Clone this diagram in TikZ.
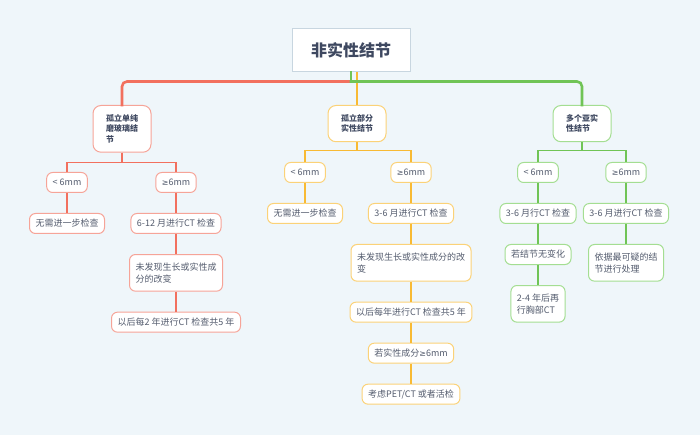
\documentclass[tikz,border=0pt]{standalone}
\usepackage{fontspec}
\setmainfont{Noto Sans CJK SC}
\newfontfamily\symfont{DejaVu Sans}
\usepackage{tikz}
\usetikzlibrary{positioning}
\definecolor{paper}{RGB}{239,246,250}
\definecolor{ink}{RGB}{84,92,110}
\definecolor{darkink}{RGB}{62,72,96}
\definecolor{rootline}{RGB}{200,214,224}
\definecolor{coral}{RGB}{242,112,94}
\definecolor{coraledge}{RGB}{246,164,152}
\definecolor{amber}{RGB}{248,186,52}
\definecolor{amberedge}{RGB}{251,210,120}
\definecolor{leaf}{RGB}{112,196,86}
\definecolor{leafedge}{RGB}{164,222,146}
\newcommand{\leaffont}{\fontsize{9}{12.3}\selectfont}
\newcommand{\branchfont}{\fontsize{8}{10.5}\selectfont\bfseries}
\newcommand{\gesym}{{\symfont\fontsize{8}{10}\selectfont ≥}}
\tikzset{
  topic/.style={draw=rootline,line width=1pt,fill=white,minimum width=118pt,minimum height=43pt,text=darkink,font=\fontsize{16}{18}\selectfont\bfseries},
  branch/.style={draw,line width=1pt,rounded corners=8pt,fill=white,align=left,text=darkink,font=\branchfont,minimum width=58pt,inner xsep=11pt,inner ysep=9pt,anchor=north},
  item/.style={draw,line width=1pt,rounded corners=6pt,fill=white,align=left,text=ink,font=\leaffont,inner xsep=6pt,inner ysep=3pt,minimum height=20pt},
  tall/.style={inner ysep=8pt},
  redbranch/.style={branch,draw=coraledge},
  orangebranch/.style={branch,draw=amberedge},
  greenbranch/.style={branch,draw=leafedge},
  reditem/.style={item,draw=coraledge},
  orangeitem/.style={item,draw=amberedge},
  greenitem/.style={item,draw=leafedge},
  bus/.style={line width=2.6pt,line cap=rect,rounded corners=5pt},
  redlink/.style={draw=coral,line width=1.3pt},
  orangelink/.style={draw=amber,line width=1.3pt},
  greenlink/.style={draw=leaf,line width=1.3pt}
}
\begin{document}
\begin{tikzpicture}[x=1pt,y=-1pt,node distance=20pt]
  \fill[paper] (0,0) rectangle (700,435);
  \node[topic] (root) at (351,50.5) {非实性结节};
  \coordinate (hub) at ([yshift=-9pt]root.south);
  \node[redbranch] (solid) at (122,105) {孤立单纯\\磨玻璃结\\节};
  \node[orangebranch] (part) at (357,105) {孤立部分\\实性结节};
  \node[greenbranch] (multi) at (582,105) {多个亚实\\性结节};
  % pure ground-glass
  \node[reditem,anchor=north] (sSmall) at (67,172) {< 6mm};
  \node[reditem,anchor=north] (sLarge) at (176,172) {\gesym6mm};
  \node[reditem,below=of sSmall] (sNone) {无需进一步检查};
  \node[reditem,below=of sLarge] (sCT) {6-12 月进行CT 检查};
  \node[reditem,tall,below=of sCT] (sStable) {未发现生长或实性成\\分的改变};
  \node[reditem,below=of sStable] (sFollow) {以后每2 年进行CT 检查共5 年};
  % part-solid
  \node[orangeitem,anchor=north] (pSmall) at (305,162) {< 6mm};
  \node[orangeitem,anchor=north] (pLarge) at (411,162) {\gesym6mm};
  \node[orangeitem,below=of pSmall] (pNone) {无需进一步检查};
  \node[orangeitem,below=of pLarge] (pCT) {3-6 月进行CT 检查};
  \node[orangeitem,tall,below=of pCT] (pStable) {未发现生长或实性成分的改\\变};
  \node[orangeitem,below=of pStable] (pFollow) {以后每年进行CT 检查共5 年};
  \node[orangeitem,below=of pFollow] (pSolid) {若实性成分\gesym6mm};
  \node[orangeitem,below=of pSolid] (pBiopsy) {考虑PET/CT 或者活检};
  % multiple
  \node[greenitem,anchor=north] (mSmall) at (538,162) {< 6mm};
  \node[greenitem,anchor=north] (mLarge) at (626,162) {\gesym6mm};
  \node[greenitem,below=of mSmall] (mCT) {3-6 月行CT 检查};
  \node[greenitem,below=of mLarge] (mCTb) {3-6 月进行CT 检查};
  \node[greenitem,below=of mCT] (mStable) {若结节无变化};
  \node[greenitem,tall,below=of mStable] (mRepeat) {2-4 年后再\\行胸部CT};
  \node[greenitem,tall,below=of mCTb] (mWorst) {依据最可疑的结\\节进行处理};
  % main branches
  \draw[amber,line width=2pt] (root.south -| part.north) -- (part.north);
  \draw[bus,coral] (hub) -| (solid.north);
  \draw[bus,leaf] (hub) -| (multi.north);
  \draw[leaf,line width=2.6pt,line cap=rect] (root.south) -- (hub);
  % sub branches
  \draw[redlink] (solid.south) -- ++(0,10) -| (sSmall.north);
  \draw[redlink] (solid.south) -- ++(0,10) -| (sLarge.north);
  \draw[redlink] (sSmall) -- (sNone);
  \draw[redlink] (sLarge) -- (sCT);
  \draw[redlink] (sCT) -- (sStable);
  \draw[redlink] (sStable) -- (sFollow);
  \draw[orangelink] (part.south) -- ++(0,8) -| (pSmall.north);
  \draw[orangelink] (part.south) -- ++(0,8) -| (pLarge.north);
  \draw[orangelink] (pSmall) -- (pNone);
  \draw[orangelink] (pLarge) -- (pCT);
  \draw[orangelink] (pCT) -- (pStable);
  \draw[orangelink] (pStable) -- (pFollow);
  \draw[orangelink] (pFollow) -- (pSolid);
  \draw[orangelink] (pSolid) -- (pBiopsy);
  \draw[greenlink] (multi.south) -- ++(0,8) -| (mSmall.north);
  \draw[greenlink] (multi.south) -- ++(0,8) -| (mLarge.north);
  \draw[greenlink] (mSmall) -- (mCT);
  \draw[greenlink] (mLarge) -- (mCTb);
  \draw[greenlink] (mCT) -- (mStable);
  \draw[greenlink] (mStable) -- (mRepeat);
  \draw[greenlink] (mCTb) -- (mWorst);
\end{tikzpicture}
\end{document}
